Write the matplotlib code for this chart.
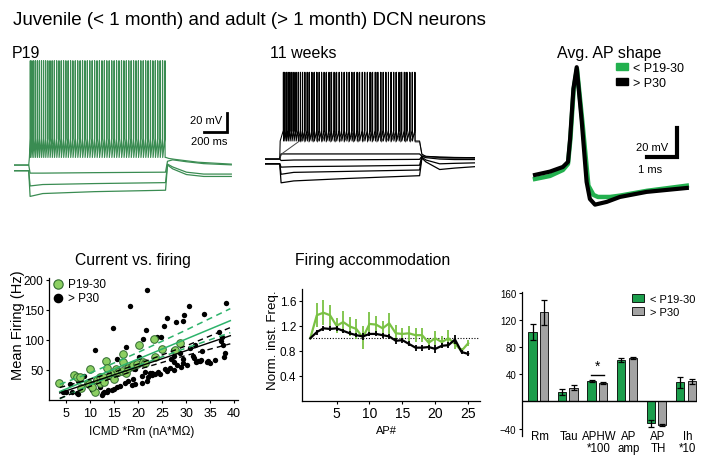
import numpy as np
import matplotlib
matplotlib.use("Agg")
import matplotlib.pyplot as plt
from matplotlib.patches import Patch

plt.rcParams['font.family'] = ['Liberation Sans', 'DejaVu Sans']
plt.rcParams['axes.linewidth'] = 0.9

# ---------------- data ----------------
# P19 traces (ms, mV)
p19_spikes = [142, 156, 171, 187, 204, 221, 239, 257, 275, 294, 313, 332, 351, 371, 391,
              411, 431, 451, 471, 492, 512, 533, 554, 575, 596, 617, 638, 659, 680, 701,
              722, 743, 765, 786, 807, 828, 850, 871, 892, 913, 935, 956, 977, 998, 1019,
              1040, 1061, 1082, 1103, 1124, 1145, 1166, 1187, 1208, 1229, 1250, 1271, 1292, 1313]
p19_spk_pre_t = [5, 128, 134]
p19_spk_pre_v = [-64, -64, -56]
p19_spk_post_t = [1322, 1345, 1400, 1600, 1890]
p19_spk_post_v = [-56, -57, -58, -61, -63]
p19_sub_t = [5, 128, 140, 250, 700, 1318, 1335, 1380, 1500, 1650, 1890]
p19_sub_v = [
    [-64, -64, -72.5, -72.5, -72, -71.5, -60, -58.5, -60.5, -62.5, -63.8],
    [-70, -70, -86, -84.5, -83.5, -82.5, -63, -66, -71.5, -73.5, -73.5],
    [-70, -70, -97, -94, -92, -90.5, -64, -68, -74, -76, -76],
]

# 11 weeks traces (ms, mV)
wk_spikes_a = [160, 172, 186, 201, 217, 234, 252, 270, 289, 308, 327, 347, 367, 387, 408,
               429, 450, 471, 492, 514, 535, 557, 579, 601, 623, 645, 667, 689, 711, 734,
               756, 778, 801, 823, 846, 868, 891, 914, 936, 959, 982, 1005, 1028, 1051, 1074,
               1097, 1120, 1143, 1166, 1189, 1212, 1235, 1258, 1281, 1304]
wk_spikes_b = [310, 345, 381, 418, 455, 493, 531, 570, 609, 648, 688, 728, 768, 808, 849,
               890, 931, 972, 1013, 1054, 1095, 1137, 1179, 1221, 1263, 1305]
wk_a_pre_t = [5, 128, 132]
wk_a_pre_v = [-63, -63, -44]
wk_b_pre_t = [5, 128, 140, 300]
wk_b_pre_v = [-63, -63, -58, -44]
wk_post_t = [1345, 1365, 1400, 1520, 1825]
wk_a_post_v = [-44, -58, -60, -61, -61.5]
wk_b_post_v = [-45, -58, -60.5, -62, -62.5]
wk_sub_t = [5, 128, 140, 250, 700, 1345, 1365, 1400, 1520, 1650, 1825]
wk_sub_v = [
    [-63, -63, -57.6, -57.6, -57.6, -57.6, -60, -60.5, -61, -61.5, -61.5],
    [-63, -63, -64.5, -64, -63.8, -63.3, -60, -60.5, -61.5, -62, -62.5],
    [-68, -68, -71.5, -71, -70.5, -69.5, -60, -61.5, -63, -63.5, -63.5],
    [-68, -68, -79, -77, -76, -74.5, -61, -64, -68, -67.5, -67],
    [-68, -68, -88, -86, -83.5, -80.5, -62, -66, -74, -72.5, -71],
]

# average AP shape (ms, mV)
ap_t_green = [0, 0.5, 0.93, 1.1, 1.18, 1.29, 1.40, 1.58, 1.78, 1.95, 2.1, 2.5, 2.83, 3.72, 5.06]
ap_v_green = [-62.1, -60, -55.9, -51.7, -34.5, 0, 13.8, -22.8, -66.7, -73.1, -74.5, -74.5, -73.6, -70.3, -66.7]
ap_t_black = [0, 0.5, 0.93, 1.1, 1.17, 1.28, 1.39, 1.56, 1.72, 1.83, 2.0, 2.39, 2.83, 3.72, 5.06]
ap_v_black = [-59.3, -57, -53.8, -50.3, -34.5, 0, 15, -22.8, -64.1, -75.9, -79.8, -77.9, -74.5, -71, -68.3]

# current vs firing
green_x = [3.6, 6.7, 7.2, 8.0, 8.2, 9.6, 10.0, 9.8, 11.0, 10.5, 11.5, 12.0, 12.1, 12.8, 13.0,
           13.3, 13.5, 14.2, 14.9, 14.9, 15.5, 15.9, 16.6, 16.8, 16.9, 17.5, 17.8, 18.7, 19.0,
           19.7, 20.1, 21.0, 21.5, 23.3, 23.5, 24.9, 27.6, 28.8]
green_y = [28, 41, 38, 38, 20, 29, 52, 26, 13, 22, 33, 29, 39, 38, 30, 65, 53, 41, 35, 46,
           52, 46, 49, 77, 63, 45, 54, 57, 59, 60, 92, 64, 62, 101, 72, 85, 83, 95]
black_x = [25.5, 21.9, 18.3, 14.7, 11.0, 30.5, 38.3, 26.1, 29.6, 33.8, 27.9, 29.4, 25.4, 21.7,
           21.1, 23.9, 24.7, 36.8, 37.5, 37.3, 37.6, 31.8, 33.4, 38.1, 37.9, 31.7, 32.4, 32.8,
           34.6, 29.4, 29.3, 26.9, 28.75, 27.2, 30.8, 17.5, 15.6, 20.1,
           8.8, 5.8, 5.1, 7.2, 12.1, 13.0, 13.8, 14.9, 15.6, 16.25, 17.3, 18.0, 19.0, 20.8,
           21.5, 22.5, 7.6, 9.3, 11.0, 13.1, 15.2, 16.6, 18.3, 19.4, 20.2,
           34.3, 33.1, 32.1, 31.5, 27.4, 28.1, 26.7, 25.6, 24.2, 23.5, 22.8, 21.8, 20.8, 27.4,
           4.4, 6.2, 7.4, 12.8, 13.6, 14.5, 18.75, 19.4, 22.0, 23.0, 24.5, 26.0, 27.5, 29.0,
           30.2, 35.0, 36.0, 10.5, 12.5]
black_y = [213, 183, 157, 120, 83, 157, 162, 136, 142, 143, 130, 131, 123, 117, 102, 105, 105,
           113, 105, 99, 92, 92, 82, 79, 72, 70, 65, 65, 65, 68, 62, 68, 79, 83, 87, 89, 69, 71,
           40, 27, 13, 12, 22, 13, 16, 18, 21, 24, 29, 32, 35, 40, 46, 45, 32, 28, 32, 38, 43,
           46, 54, 52, 60,
           64, 66, 63, 74, 63, 58, 54, 52, 46, 43, 45, 32, 29, 73, 13, 13, 10, 11, 14, 17, 25,
           27, 38, 41, 44, 48, 50, 55, 58, 62, 66, 17, 9]
fit_x = [3.7, 10, 15, 20, 30, 39.2]
green_fit = [14, 34.9, 51.6, 68.2, 101.4, 132]
green_hi = [26, 44.9, 61.6, 79.2, 116.4, 152]
green_lo = [2, 24.9, 41.6, 57.2, 86.4, 112]
black_fit = [11.7, 28.6, 41.9, 55.3, 82.1, 107]
black_hi = [20.7, 34.6, 46.4, 59.8, 90.1, 120.5]
black_lo = [2.7, 22.6, 37.4, 50.8, 74.1, 93.5]

# firing accommodation
ap_num = list(range(1, 26))
green_acc = [1.0, 1.37, 1.41, 1.37, 1.2, 1.26, 1.19, 1.15, 1.01, 1.23, 1.22, 1.16, 1.24,
             1.08, 1.07, 1.08, 1.05, 1.05, 0.93, 1.0, 0.94, 1.0, 0.91, 0.8, 0.92]
green_acc_err = [0, 0.19, 0.2, 0.17, 0.12, 0.17, 0.15, 0.16, 0.18, 0.19, 0.13, 0.12, 0.17,
                 0.13, 0.09, 0.12, 0.11, 0.11, 0.08, 0.11, 0.1, 0.14, 0.08, 0.04, 0.05]
black_acc = [1.0, 1.1, 1.16, 1.15, 1.16, 1.12, 1.08, 1.05, 1.03, 1.07, 1.07, 1.05, 1.03,
             0.96, 0.97, 0.91, 0.85, 0.85, 0.86, 0.83, 0.88, 0.89, 0.98, 0.78, 0.75]
black_acc_err = [0, 0.04, 0.04, 0.04, 0.04, 0.03, 0.03, 0.03, 0.05, 0.03, 0.04, 0.04, 0.04,
                 0.05, 0.04, 0.04, 0.05, 0.05, 0.04, 0.06, 0.04, 0.05, 0.07, 0.03, 0.04]
ref_level = 1.0

# passive / AP properties
bar_labels = ['Rm', 'Tau', 'APHW\n*100', 'AP\namp', 'AP\nTH', 'Ih\n*10']
green_means = [102, 14, 29.5, 61, -32, 28]
green_err = [12, 5, 1.5, 3, 5, 8.5]
gray_means = [131, 20.5, 27, 64, -34.5, 29.5]
gray_err = [18, 3.5, 1.5, 2, 1, 3.4]

C_TRACE = '#3a8c52'
C_AP = '#22b04e'
C_FIT = '#2db36b'
C_DOT = '#8ccf62'
C_ACC = '#79c143'
C_BAR = '#1c9e4c'
C_GRAY = '#a3a3a3'

W, H = 707, 464
fig = plt.figure(figsize=(W / 100, H / 100), dpi=100)


def px_axes(l, t, r, b):
    return fig.add_axes([l / W, 1 - b / H, (r - l) / W, (b - t) / H])


def ftext(x, y, s, **kw):
    return fig.text(x / W, 1 - y / H, s, **kw)


def spike_path(pre_t, pre_v, spikes, thr, peak, ahp, post_t, post_v):
    t = list(pre_t)
    v = list(pre_v)
    for s in spikes:
        t += [s - 1.0, s, s + 1.2]
        v += [thr, peak, ahp]
    return t + list(post_t), v + list(post_v)


ftext(13, 25, 'Juvenile (< 1 month) and adult (> 1 month) DCN neurons', fontsize=13.5, va='baseline')
ftext(12, 58, 'P19', fontsize=11.5, va='baseline')
ftext(270, 58, '11 weeks', fontsize=11.5, va='baseline')
ftext(609, 58, 'Avg. AP shape', fontsize=11.5, va='baseline', ha='center')

# ---- P19 traces ----
axA = px_axes(14, 55, 232, 205)
axA.axis('off')
axA.set_xlim(0, 1896)
axA.set_ylim(-105, 52.9)
for vv in p19_sub_v:
    axA.plot(p19_sub_t, vv, color=C_TRACE, lw=0.9)
t, v = spike_path(p19_spk_pre_t, p19_spk_pre_v, p19_spikes, -36, 45.8, -56,
                  p19_spk_post_t, p19_spk_post_v)
axA.plot(t, v, color=C_TRACE, lw=0.85)
axA.plot([1653, 1853, 1853], [-29.2, -29.2, -9.2], color='black', lw=2, clip_on=False,
         solid_joinstyle='miter')
axA.text(1807, -17, '20 mV', fontsize=8, ha='right', va='center')
axA.text(1853, -38.5, '200 ms', fontsize=8, ha='right', va='center')

# ---- 11 weeks traces ----
axB = px_axes(265, 55, 475, 205)
axB.axis('off')
axB.set_xlim(0, 1827)
axB.set_ylim(-110.3, 47.6)
for vv in wk_sub_v:
    axB.plot(wk_sub_t, vv, color='black', lw=0.9)
t, v = spike_path(wk_b_pre_t, wk_b_pre_v, wk_spikes_b, -35, 28, -45, wk_post_t, wk_b_post_v)
axB.plot(t, v, color='#444444', lw=0.7)
t, v = spike_path(wk_a_pre_t, wk_a_pre_v, wk_spikes_a, -33, 28.4, -44, wk_post_t, wk_a_post_v)
axB.plot(t, v, color='black', lw=0.75)

# ---- AP shape ----
axC = px_axes(520, 55, 700, 230)
axC.axis('off')
axC.set_xlim(-0.5, 5.5)
axC.set_ylim(-96.6, 24.1)
axC.plot(ap_t_green, ap_v_green, color=C_AP, lw=3.2, solid_joinstyle='round')
axC.plot(ap_t_black, ap_v_black, color='black', lw=3.0, solid_joinstyle='round')
axC.plot([3.73, 4.73, 4.73], [-46.9, -46.9, -26.9], color='black', lw=3, solid_joinstyle='miter')
axC.text(4.43, -40, '20 mV', fontsize=8, ha='right', va='center')
axC.text(3.43, -55, '1 ms', fontsize=8, ha='left', va='center')
axC.legend([Patch(fc=C_AP, ec=C_AP), Patch(fc='black', ec='black')], ['< P19-30', '> P30'],
           loc='upper left', bbox_to_anchor=(0.535, 0.955), frameon=False, fontsize=9,
           handlelength=0.9, handleheight=0.45, handletextpad=0.4, labelspacing=0.25,
           borderpad=0, borderaxespad=0)

# ---- current vs firing ----
axD = px_axes(49, 279, 238, 401)
axD.scatter(black_x, black_y, s=15, color='black', zorder=3, linewidths=0)
axD.scatter(green_x, green_y, s=30, facecolor=C_DOT, edgecolor='#2f6a2f', linewidths=0.7, zorder=4)
axD.plot(fit_x, green_fit, color=C_FIT, lw=1.1, zorder=5)
axD.plot(fit_x, green_hi, color=C_FIT, lw=1.1, ls=(0, (4, 3)), zorder=5)
axD.plot(fit_x, green_lo, color=C_FIT, lw=1.1, ls=(0, (4, 3)), zorder=5)
axD.plot(fit_x, black_fit, color='black', lw=1.0, zorder=5)
axD.plot(fit_x, black_hi, color='black', lw=1.0, ls=(0, (4, 3)), zorder=5)
axD.plot(fit_x, black_lo, color='black', lw=1.0, ls=(0, (4, 3)), zorder=5)
axD.set_xlim(1.46, 40.8)
axD.set_ylim(0, 203)
axD.set_xticks([5, 10, 15, 20, 25, 30, 35, 40])
axD.set_yticks([50, 100, 150, 200])
axD.tick_params(axis='x', labelsize=9, length=2, pad=3)
axD.tick_params(axis='y', labelsize=8.5, length=2, pad=2)
for s in ['top', 'right']:
    axD.spines[s].set_visible(False)
axD.scatter([0.045], [0.95], s=45, facecolor=C_DOT, edgecolor='#2f6a2f', linewidths=0.8,
            transform=axD.transAxes, clip_on=False, zorder=6)
axD.scatter([0.045], [0.835], s=35, color='black', transform=axD.transAxes, clip_on=False, zorder=6)
axD.text(0.1, 0.95, 'P19-30', fontsize=8.5, va='center', transform=axD.transAxes)
axD.text(0.1, 0.835, '> P30', fontsize=8.5, va='center', transform=axD.transAxes)
ftext(133, 265, 'Current vs. firing', fontsize=11.3, ha='center', va='baseline')
ftext(18.5, 325, 'Mean Firing (Hz)', fontsize=10.5, ha='center', va='center', rotation=90)
ftext(142, 432.5, 'ICMD *Rm (nA*M\u03a9)', fontsize=8.5, ha='center', va='center')

# ---- firing accommodation ----
axE = px_axes(301.7, 290, 480, 401.7)
axE.plot([1, 26.5], [ref_level, ref_level], color='black', lw=0.8, ls=(0, (1, 1.5)))
axE.errorbar(ap_num, green_acc, yerr=green_acc_err, color=C_ACC, lw=1.6, elinewidth=1.3,
             capsize=0, zorder=3)
axE.errorbar(ap_num, black_acc, yerr=black_acc_err, color='black', lw=1.6, elinewidth=1.3,
             capsize=0, zorder=4)
axE.set_xlim(-0.3, 26.8)
axE.set_ylim(0, 1.79)
axE.set_xticks([5, 10, 15, 20, 25])
axE.set_yticks([0.4, 0.8, 1.2, 1.6])
axE.set_yticklabels(['0.4', '0.8', '1.2', '1.6'])
axE.tick_params(axis='x', labelsize=10, length=2, pad=2)
axE.tick_params(axis='y', labelsize=8.5, length=2, pad=2)
for s in ['top', 'right']:
    axE.spines[s].set_visible(False)
ftext(372.5, 265, 'Firing accommodation', fontsize=11.3, ha='center', va='baseline')
ftext(273, 340, 'Norm. inst. Freq.', fontsize=9.6, ha='center', va='center', rotation=90)
ftext(386.7, 431.5, 'AP#', fontsize=8, ha='center', va='center')

# ---- bar chart ----
axF = px_axes(521.7, 293, 696.7, 436.5)
pos = np.arange(len(bar_labels))
ekw = dict(lw=0.9, capsize=2.2, capthick=0.9)
axF.bar(pos - 0.195, green_means, 0.28, yerr=green_err, color=C_BAR, edgecolor='black',
        linewidth=0.6, error_kw=ekw, zorder=2)
axF.bar(pos + 0.195, gray_means, 0.28, yerr=gray_err, color=C_GRAY, edgecolor='black',
        linewidth=0.6, error_kw=ekw, zorder=2)
axF.axhline(0, color='black', lw=1, zorder=3)
axF.plot([2 - 0.22, 2 + 0.22], [38.5, 38.5], color='black', lw=1)
axF.text(2, 42, '*', fontsize=10, ha='center', va='bottom')
axF.set_xlim(-0.562, 5.362)
axF.set_ylim(-50, 161)
axF.set_xticks([])
axF.set_yticks([-40, 40, 80, 120, 160])
axF.tick_params(axis='y', labelsize=7, length=2, pad=2)
for s in ['top', 'right', 'bottom']:
    axF.spines[s].set_visible(False)
for p, lab in zip(pos, bar_labels):
    axF.text(p + 0.05, -42, lab, fontsize=8.3, ha='center', va='top', linespacing=0.95)
axF.legend([Patch(fc=C_BAR, ec='black', lw=0.6), Patch(fc=C_GRAY, ec='black', lw=0.6)],
           ['< P19-30', '> P30'], loc='upper left', bbox_to_anchor=(0.63, 0.985),
           frameon=False, fontsize=8, handlelength=1.1, handleheight=0.7, handletextpad=0.5,
           labelspacing=0.25, borderpad=0, borderaxespad=0)

fig.savefig('out.png', dpi=100, facecolor='white')
